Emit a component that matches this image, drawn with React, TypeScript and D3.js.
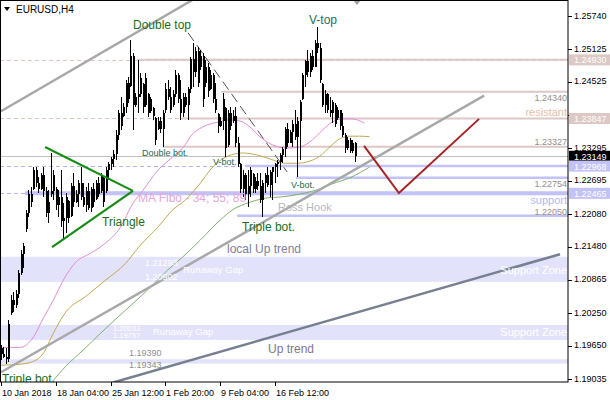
import React from 'react';
import * as d3 from 'd3';

// ---------- data ----------
const timeLabels = ['10 Jan 2018', '18 Jan 04:00', '25 Jan 12:00', '1 Feb 20:00', '9 Feb 04:00', '16 Feb 12:00'];
const timeLabelIdx = [0, 22, 44, 66, 88, 110];
const yTicks = [1.2574, 1.25125, 1.24525, 1.2391, 1.23295, 1.22695, 1.2208, 1.2148, 1.20865, 1.2025, 1.1965, 1.19035];

const high = [1.1966,1.1962,1.1960,1.2012,1.2058,1.2064,1.2067,1.2104,1.2141,1.2154,
1.2215,1.2252,1.2258,1.2295,1.2295,1.2277,1.2284,1.2295,1.2258,1.2252,
1.2321,1.2289,1.2258,1.2252,1.2289,1.2228,1.2247,1.2234,1.2265,1.2284,
1.2252,1.2271,1.2295,1.2265,1.2258,1.2265,1.2258,1.2265,1.2271,1.2277,
1.2284,1.2277,1.2295,1.2304,1.2314,1.2326,1.2363,1.2400,1.2425,1.2413,
1.2456,1.2462,1.2530,1.2506,1.2432,1.2493,1.2469,1.2450,1.2469,1.2432,
1.2425,1.2406,1.2388,1.2388,1.2388,1.2400,1.2450,1.2456,1.2443,1.2437,
1.2474,1.2469,1.2456,1.2432,1.2432,1.2443,1.2499,1.2524,1.2517,1.2517,
1.2511,1.2506,1.2493,1.2487,1.2474,1.2469,1.2450,1.2395,1.2388,1.2432,
1.2406,1.2400,1.2406,1.2400,1.2406,1.2351,1.2302,1.2289,1.2284,1.2289,
1.2295,1.2284,1.2277,1.2284,1.2284,1.2271,1.2284,1.2295,1.2289,1.2295,
1.2302,1.2308,1.2321,1.2332,1.2369,1.2376,1.2363,1.2382,1.2400,1.2388,
1.2419,1.2469,1.2493,1.2511,1.2506,1.2511,1.2530,1.2554,1.2524,1.2450,
1.2437,1.2432,1.2425,1.2419,1.2413,1.2406,1.2400,1.2395,1.2358,1.2351,
1.2349,1.2345,1.2341];

const low = [1.1938,1.1942,1.1932,1.1934,1.2021,1.2027,1.2034,1.2053,1.2095,1.2108,
1.2175,1.2203,1.2221,1.2252,1.2258,1.2247,1.2252,1.2240,1.2203,1.2191,
1.2240,1.2234,1.2215,1.2203,1.2184,1.2160,1.2173,1.2191,1.2203,1.2221,
1.2228,1.2221,1.2234,1.2221,1.2212,1.2215,1.2212,1.2221,1.2234,1.2240,
1.2247,1.2221,1.2247,1.2271,1.2289,1.2295,1.2308,1.2345,1.2363,1.2388,
1.2395,1.2413,1.2443,1.2363,1.2406,1.2395,1.2425,1.2395,1.2406,1.2388,
1.2395,1.2382,1.2336,1.2363,1.2358,1.2332,1.2395,1.2419,1.2395,1.2406,
1.2425,1.2413,1.2382,1.2388,1.2406,1.2382,1.2432,1.2443,1.2462,1.2443,
1.2474,1.2406,1.2443,1.2425,1.2437,1.2413,1.2395,1.2358,1.2369,1.2363,
1.2314,1.2332,1.2363,1.2376,1.2332,1.2295,1.2247,1.2240,1.2234,1.2221,
1.2240,1.2247,1.2247,1.2252,1.2228,1.2203,1.2247,1.2258,1.2240,1.2234,
1.2265,1.2277,1.2289,1.2302,1.2314,1.2332,1.2339,1.2332,1.2345,1.2277,
1.2308,1.2419,1.2443,1.2462,1.2462,1.2474,1.2480,1.2506,1.2450,1.2406,
1.2395,1.2395,1.2388,1.2376,1.2369,1.2382,1.2363,1.2351,1.2321,1.2326,
1.2321,1.2321,1.2304];

const open = [1.1960,1.1950,1.1945,1.1940,1.2025,1.2050,1.2040,1.2060,1.2100,1.2135,
1.2180,1.2210,1.2245,1.2255,1.2290,1.2265,1.2255,1.2280,1.2250,1.2210,
1.2245,1.2250,1.2255,1.2225,1.2240,1.2195,1.2200,1.2232,1.2205,1.2260,
1.2230,1.2245,1.2265,1.2240,1.2225,1.2250,1.2220,1.2255,1.2236,1.2265,
1.2250,1.2275,1.2250,1.2290,1.2300,1.2310,1.2320,1.2355,1.2395,1.2390,
1.2405,1.2450,1.2445,1.2500,1.2410,1.2425,1.2430,1.2448,1.2410,1.2430,
1.2398,1.2404,1.2385,1.2366,1.2380,1.2365,1.2400,1.2440,1.2425,1.2410,
1.2430,1.2465,1.2420,1.2395,1.2425,1.2410,1.2440,1.2495,1.2470,1.2510,
1.2480,1.2500,1.2450,1.2480,1.2440,1.2465,1.2420,1.2393,1.2370,1.2380,
1.2404,1.2335,1.2395,1.2380,1.2390,1.2340,1.2300,1.2255,1.2280,1.2245,
1.2260,1.2282,1.2255,1.2270,1.2260,1.2235,1.2265,1.2280,1.2262,1.2285,
1.2295,1.2300,1.2305,1.2318,1.2328,1.2365,1.2340,1.2360,1.2375,1.2350,
1.2380,1.2420,1.2465,1.2490,1.2470,1.2500,1.2480,1.2525,1.2515,1.2448,
1.2410,1.2430,1.2400,1.2395,1.2410,1.2385,1.2400,1.2370,1.2355,1.2330,
1.2345,1.2325,1.2340];

const close = [1.1950,1.1945,1.1940,1.2005,1.2050,1.2040,1.2060,1.2100,1.2135,1.2150,
1.2210,1.2245,1.2230,1.2290,1.2265,1.2255,1.2280,1.2250,1.2210,1.2230,
1.2250,1.2280,1.2225,1.2240,1.2195,1.2200,1.2240,1.2200,1.2260,1.2230,
1.2245,1.2265,1.2240,1.2225,1.2250,1.2220,1.2255,1.2230,1.2265,1.2245,
1.2280,1.2230,1.2290,1.2300,1.2310,1.2320,1.2355,1.2395,1.2370,1.2405,
1.2450,1.2420,1.2500,1.2410,1.2425,1.2430,1.2460,1.2405,1.2460,1.2395,
1.2420,1.2390,1.2345,1.2380,1.2365,1.2395,1.2440,1.2425,1.2400,1.2430,
1.2465,1.2420,1.2395,1.2425,1.2410,1.2440,1.2495,1.2470,1.2510,1.2450,
1.2500,1.2420,1.2480,1.2435,1.2465,1.2420,1.2400,1.2370,1.2380,1.2420,
1.2330,1.2395,1.2370,1.2390,1.2340,1.2300,1.2255,1.2280,1.2245,1.2260,
1.2290,1.2255,1.2270,1.2260,1.2235,1.2265,1.2280,1.2262,1.2285,1.2295,
1.2300,1.2305,1.2318,1.2328,1.2365,1.2340,1.2360,1.2375,1.2350,1.2380,
1.2415,1.2465,1.2490,1.2470,1.2500,1.2480,1.2525,1.2515,1.2455,1.2410,
1.2430,1.2400,1.2395,1.2415,1.2375,1.2400,1.2370,1.2355,1.2330,1.2345,
1.2325,1.2340,1.2315];

// moving averages (bar index, value)
const ma34Idx = [0,3,8,13,17,21,25,30,36,41,48,53,57,63,69,74,76,81,87,92,96,100,104,109,115,120,125,129,133,137,141,146];
const ma34Val = [1.1960,1.1962,1.1962,1.1981,1.2016,1.2049,1.2086,1.2119,1.2136,1.2151,1.2184,1.2228,1.2252,1.2289,1.2314,1.2336,1.2351,1.2369,1.2378,1.2382,1.2380,1.2369,1.2351,1.2336,1.2330,1.2332,1.2345,1.2363,1.2378,1.2384,1.2384,1.2376];
const ma55Idx = [0,8,13,17,21,26,34,42,50,56,63,69,74,80,85,91,97,103,108,114,119,124,128,132,136,140,144,148];
const ma55Val = [1.1929,1.1931,1.1936,1.1951,1.1988,1.2027,1.2056,1.2086,1.2117,1.2151,1.2184,1.2216,1.2234,1.2265,1.2295,1.2315,1.2321,1.2317,1.2310,1.2302,1.2302,1.2306,1.2315,1.2332,1.2347,1.2352,1.2352,1.2351];
const ma89Idx = [20,26,33,40,47,53,60,67,73,80,88,93,100,107,113,120,127,133,140,148];
const ma89Val = [1.1895,1.1927,1.1957,1.1988,1.2018,1.2043,1.2073,1.2105,1.2129,1.2160,1.2197,1.2216,1.2230,1.2238,1.2240,1.2245,1.2253,1.2264,1.2275,1.2295];

// levels
const dashedLevels = [1.2493, 1.23847, 1.22968, 1.22465];
const resistLevels = [1.2493, 1.2434, 1.23847, 1.23327];
const resistStart = [54.6, 88.4, 71.9, 65];
const supportLevels = [1.22968, 1.22754, 1.22465, 1.2205];
const supportStart = [98, 118.5, 9.6, 94.8];
const currentPrice = 1.23149;
const zoneTop = [1.21293, 1.20033, 1.1940];
const zoneBottom = [1.2083, 1.19757, 1.1932];

// drawn objects (bar index, price)
const channelTop = [[0, 1.2398], [80, 1.2612]];
const localUpTrend = [[0, 1.1916], [194, 1.2427]];
const upTrend = [[45, 1.1897], [224.5, 1.2134]];
const triangleUpper = [[17.7, 1.2332], [53, 1.2251]];
const triangleLower = [[20.5, 1.2147], [53, 1.2251]];
const doubleTopLine = [[75.1, 1.2543], [114.9, 1.2286]];
const forecast = [[145.8, 1.2334], [159.8, 1.2247], [192, 1.2384]];

// ---------- layout ----------
const W = 610, H = 400, PR = 568, PB = 382;
const FONT = 'Liberation Sans, Arial, sans-serif';
const xs = d3.scaleLinear().domain([0, 142]).range([1, 354.6]);
const ys = d3.scaleLinear().domain([1.19035, 1.2574]).range([379, 16]);

const PINK = '#dcc8c4';
const BLUE = '#c2c2f6';
const ZONE = '#e2e2fa';

const lineGen = d3.line<number[]>().x(d => xs(d[0])).y(d => ys(d[1]));
const maGen = (idx: number[], val: number[]) =>
  d3.line<number>().x((_, i) => xs(idx[i])).y(d => ys(d)).curve(d3.curveMonotoneX)(val) || '';

const labelled = [1.2493, 1.23847, 1.23149, 1.22968, 1.22465];

export default function App() {
  const bars = high.map((h, i) => ({ i, h, l: low[i], o: open[i], c: close[i] }));
  const axisLabel = (v: number, bg: string, fg: string) => (
    <g key={'al' + v}>
      <rect x={569} y={ys(v) - 5.5} width={41} height={11} fill={bg} />
      <text x={574} y={ys(v) + 3.5} fontSize={9} fill={fg} fontFamily={FONT}>{v.toFixed(5)}</text>
    </g>
  );
  const visibleTick = (v: number) => !labelled.some(l => Math.abs(ys(l) - ys(v)) < 5);
  return (
    <svg width={W} height={H} style={{ position: 'absolute', left: 0, top: 0, background: '#fff' }}>
      <defs>
        <clipPath id="plot"><rect x={0} y={0} width={PR} height={PB} /></clipPath>
      </defs>
      <rect x={0} y={0} width={W} height={H} fill="#fff" />
      <g clipPath="url(#plot)">
        {zoneTop.map((t, i) => (
          <rect key={'z' + i} x={0} y={ys(t)} width={PR} height={ys(zoneBottom[i]) - ys(t)} fill={ZONE} />
        ))}
        {dashedLevels.map((v, i) => (
          <line key={'dl' + i} x1={0} x2={PR} y1={Math.round(ys(v)) + 0.5} y2={Math.round(ys(v)) + 0.5}
            stroke={i < 2 ? '#e2c4c0' : '#b4b4f2'} strokeDasharray="4,3" strokeWidth={1} />
        ))}
        <line x1={0} x2={PR} y1={Math.round(ys(currentPrice)) + 0.5} y2={Math.round(ys(currentPrice)) + 0.5} stroke="#c0c0c0" strokeWidth={1} />
        {resistLevels.map((v, i) => (
          <line key={'rl' + i} x1={xs(resistStart[i])} x2={PR} y1={ys(v)} y2={ys(v)} stroke={PINK} strokeWidth={2} />
        ))}
        {supportLevels.map((v, i) => (
          <line key={'sl' + i} x1={xs(supportStart[i])} x2={PR} y1={ys(v)} y2={ys(v)} stroke={BLUE} strokeWidth={i === 2 ? 4 : 2.5} />
        ))}
        <path d={maGen(ma89Idx, ma89Val)} fill="none" stroke="#7fb070" strokeWidth={1} />
        <path d={maGen(ma55Idx, ma55Val)} fill="none" stroke="#c0aa50" strokeWidth={1} />
        <path d={maGen(ma34Idx, ma34Val)} fill="none" stroke="#e08ce0" strokeWidth={1} />
        <path d={lineGen(channelTop) || ''} stroke="#a8a8a8" strokeWidth={2.5} fill="none" />
        <path d={lineGen(localUpTrend) || ''} stroke="#a8a8a8" strokeWidth={2.5} fill="none" />
        <path d={lineGen(upTrend) || ''} stroke="#778090" strokeWidth={2.5} fill="none" />
        <path d={lineGen(doubleTopLine) || ''} stroke="#505050" strokeWidth={1} strokeDasharray="10,5" fill="none" />
        <g shapeRendering="crispEdges">
          {bars.map(b => {
            const cx = Math.round(xs(b.i));
            const top = ys(Math.max(b.o, b.c));
            const bot = ys(Math.min(b.o, b.c));
            return (
              <g key={'b' + b.i}>
                <rect x={cx} y={ys(b.h)} width={1} height={Math.max(1, ys(b.l) - ys(b.h))} fill="#000" />
                <rect x={cx} y={top} width={2} height={Math.max(1, bot - top)} fill="#000" />
              </g>
            );
          })}
        </g>
        <path d={lineGen(triangleUpper) || ''} stroke="#168c16" strokeWidth={2.2} fill="none" />
        <path d={lineGen(triangleLower) || ''} stroke="#168c16" strokeWidth={2.2} fill="none" />
        <path d={lineGen(forecast) || ''} stroke="#a82424" strokeWidth={2} fill="none" />

        <g fontFamily={FONT} fill="#ffffff">
          <text x={145} y={266} fontSize={9}>1.21293</text>
          <text x={145} y={280} fontSize={9}>1.20902</text>
          <text x={183} y={273} fontSize={9.5}>Runaway Gap</text>
          <text x={567} y={274} fontSize={11} textAnchor="end">Support Zone</text>
          <text x={113} y={330.5} fontSize={7.5}>1.20033</text>
          <text x={113} y={338} fontSize={7.5}>1.19757</text>
          <text x={153} y={335} fontSize={9.5}>Runaway Gap</text>
          <text x={567} y={336} fontSize={11} textAnchor="end">Support Zone</text>
        </g>
        <g fontFamily={FONT} fill="#909090" fontSize={9}>
          <text x={129} y={356}>1.19390</text>
          <text x={129} y={368}>1.19343</text>
          <text x={567} y={101} textAnchor="end">1.24340</text>
          <text x={567} y={145} textAnchor="end">1.23327</text>
          <text x={567} y={187} textAnchor="end">1.22754</text>
          <text x={567} y={215} textAnchor="end">1.22050</text>
        </g>
        <text x={567} y={116} fontSize={11} textAnchor="end" fill="#e6c0a6" fontFamily={FONT}>resistant</text>
        <text x={567} y={204} fontSize={11} textAnchor="end" fill="#b8b8f4" fontFamily={FONT}>support</text>
        <text x={278} y={211} fontSize={11} fill="#b8b8b8" fontFamily={FONT}>Ross Hook</text>

        <g fontFamily={FONT} fontSize={12} fill="#1a6e1a">
          <text x={133} y={29}>Double top</text>
          <text x={309} y={24} fill="#1b7060">V-top</text>
          <text x={102} y={226}>Triangle</text>
          <text x={242} y={231}>Triple bot.</text>
          <text x={2} y={383}>Triple bot.</text>
        </g>
        <g fontFamily={FONT} fontSize={9} fill="#1b6a58">
          <text x={142} y={156}>Double bot.</text>
          <text x={213} y={165}>V-bot.</text>
          <text x={291} y={188}>V-bot.</text>
        </g>
        <text x={138} y={202} fontSize={12} fill="#e6a6e0" fontFamily={FONT}>MA Fibo - 34; 55; 89</text>
        <text x={227} y={253} fontSize={12} fill="#8080a0" fontFamily={FONT}>local Up trend</text>
        <text x={268} y={353} fontSize={12} fill="#7a7a8a" fontFamily={FONT}>Up trend</text>

        <path d="M4,7 L10,7 L7,11 Z" fill="#000" />
        <text x={16} y={13} fontSize={10} fill="#000" fontFamily={FONT}>EURUSD,H4</text>
        <path d="M353,0 L361,0 L357,5 Z" fill="#a0a0a0" />
      </g>

      <rect x={0.5} y={0.5} width={PR - 0.5} height={PB - 0.5} fill="none" stroke="#000" strokeWidth={1} />

      <g fontFamily={FONT} fontSize={9} fill="#000">
        {yTicks.map(v => (
          <g key={'yt' + v}>
            <line x1={PR} x2={PR + 4} y1={Math.round(ys(v)) + 0.5} y2={Math.round(ys(v)) + 0.5} stroke="#000" />
            {visibleTick(v) && <text x={574} y={ys(v) + 2.5}>{v.toFixed(5)}</text>}
          </g>
        ))}
      </g>
      {axisLabel(1.2493, PINK, '#fff')}
      {axisLabel(1.23847, PINK, '#fff')}
      {axisLabel(currentPrice, '#000', '#fff')}
      {axisLabel(1.22968, BLUE, '#fff')}
      {axisLabel(1.22465, BLUE, '#fff')}

      <g fontFamily={FONT} fontSize={9} fill="#000">
        {timeLabelIdx.map((idx, i) => (
          <g key={'xt' + i}>
            <line x1={Math.round(xs(idx)) + 0.5} x2={Math.round(xs(idx)) + 0.5} y1={PB} y2={PB + 4} stroke="#000" />
            <text x={Math.round(xs(idx)) + 1} y={396}>{timeLabels[i]}</text>
          </g>
        ))}
      </g>
    </svg>
  );
}
